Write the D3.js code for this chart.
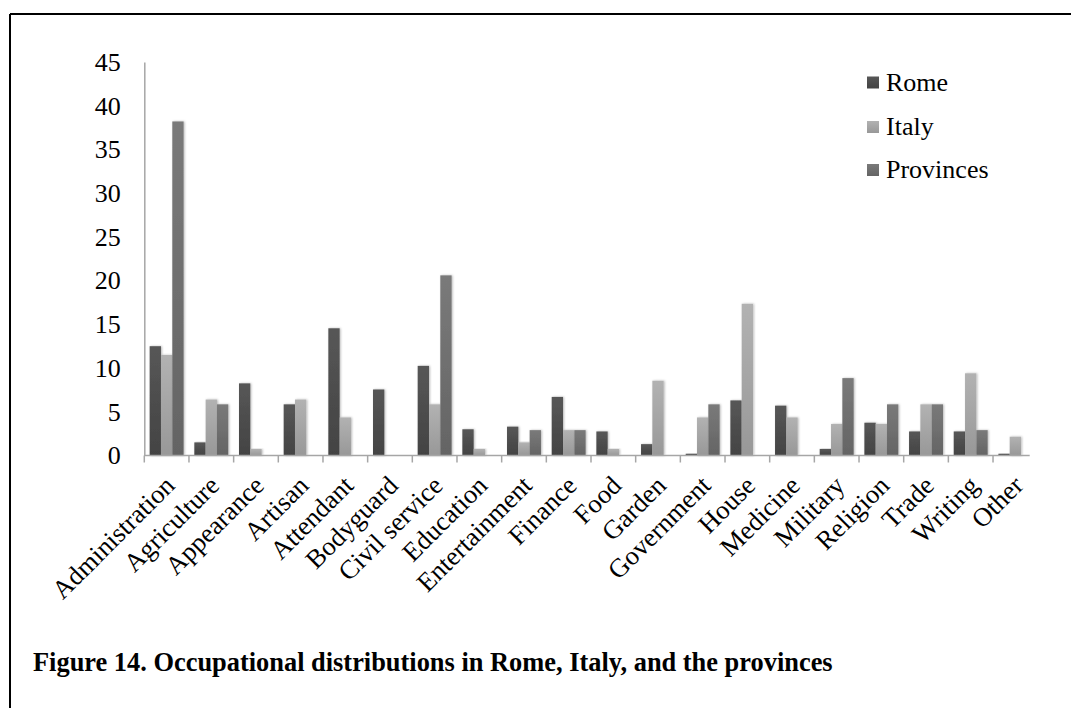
<!DOCTYPE html>
<html>
<head>
<meta charset="utf-8">
<script src="https://cdn.jsdelivr.net/npm/d3@7/dist/d3.min.js"></script>
<style>
  html, body { margin: 0; padding: 0; background: #fff; }
  svg { display: block; }
  text { font-family: "Liberation Serif", "Times New Roman", serif; fill: #000; }
</style>
</head>
<body>
<svg id="chart" width="1071" height="708"></svg>
<script>
const categories = ["Administration","Agriculture","Appearance","Artisan","Attendant","Bodyguard","Civil service","Education","Entertainment","Finance","Food","Garden","Government","House","Medicine","Military","Religion","Trade","Writing","Other"];
const seriesNames = ["Rome","Italy","Provinces"];
const rome      = [12.5, 1.5, 8.25, 5.85, 14.55, 7.55, 10.25, 3.0, 3.3, 6.7, 2.75, 1.3, 0.2, 6.3, 5.7, 0.75, 3.75, 2.75, 2.75, 0.2];
const italy     = [11.5, 6.4, 0.75, 6.4, 4.35, 0, 5.85, 0.75, 1.5, 2.9, 0.75, 8.55, 4.35, 17.35, 4.35, 3.6, 3.6, 5.85, 9.4, 2.15];
const provinces = [38.2, 5.85, 0, 0, 0, 0, 20.6, 0, 2.9, 2.9, 0, 0, 5.85, 0, 0, 8.85, 5.85, 5.85, 2.9, 0];
const yTicks = [0,5,10,15,20,25,30,35,40,45];
const titleText = "Figure 14. Occupational distributions in Rome, Italy, and the provinces";

const seriesValues = [rome, italy, provinces];
const gradStops = [["#575757","#434343"],["#b2b2b2","#989898"],["#7a7a7a","#646464"]];
const FONT = "Liberation Serif, Times New Roman, serif";

const svg = d3.select("#chart");
const defs = svg.append("defs");
gradStops.forEach((g,i)=>{
  const lg = defs.append("linearGradient").attr("id","g"+i).attr("x1",0).attr("y1",0).attr("x2",0).attr("y2",1);
  lg.append("stop").attr("offset","0%").attr("stop-color",g[0]);
  lg.append("stop").attr("offset","100%").attr("stop-color",g[1]);
});
const f = defs.append("filter").attr("id","sh").attr("x","-30%").attr("y","-10%").attr("width","160%").attr("height","120%");
f.append("feDropShadow").attr("dx",1).attr("dy",0).attr("stdDeviation",1.3).attr("flood-color","#000").attr("flood-opacity",0.28);

// frame
svg.append("line").attr("x1",10).attr("y1",14).attr("x2",1071).attr("y2",14).attr("stroke","#000").attr("stroke-width",2);
svg.append("line").attr("x1",10).attr("y1",14).attr("x2",10).attr("y2",708).attr("stroke","#000").attr("stroke-width",2);

const x0 = d3.scaleBand().domain(categories).range([144.3, 1037.7]).paddingInner(0.24).paddingOuter(0.12);
const x1 = d3.scaleBand().domain(seriesNames).range([0, x0.bandwidth()]);
const y = d3.scaleLinear().domain([0,45]).range([455.5, 62]);

// y axis labels
const yAxis = d3.axisLeft(y).tickValues(yTicks).tickSize(0).tickPadding(23.5);
const yg = svg.append("g").attr("transform","translate(144.3,0)").call(yAxis);
yg.select(".domain").attr("stroke","#a6a6a6").attr("stroke-width",1.5);
yg.selectAll("text").style("font-size","26px").style("font-family",FONT).attr("fill","#000");

// bars
const groups = svg.append("g").selectAll("g").data(categories).join("g")
  .attr("transform", d => `translate(${x0(d)},0)`);
groups.selectAll("rect")
  .data((c,ci) => seriesNames.map((s,si) => ({s, si, v: seriesValues[si][ci]})).filter(d=>d.v>0))
  .join("rect")
  .attr("x", d => x1(d.s))
  .attr("width", x1.bandwidth())
  .attr("y", d => y(d.v))
  .attr("height", d => y(0) - y(d.v))
  .attr("fill", d => `url(#g${d.si})`)
  .attr("filter","url(#sh)");

// x axis
const step = x0.step();
const xStart = x0.range()[0];
const xg = svg.append("g");
xg.append("line").attr("x1", xStart).attr("x2", x0.range()[1]-8).attr("y1", y(0)).attr("y2", y(0))
  .attr("stroke","#a6a6a6").attr("stroke-width",1.5);
xg.selectAll("line.tk").data(d3.range(categories.length)).join("line").attr("class","tk")
  .attr("x1", k => xStart + k*step).attr("x2", k => xStart + k*step)
  .attr("y1", y(0)).attr("y2", y(0)+7).attr("stroke","#a6a6a6").attr("stroke-width",1.5);

xg.selectAll("text.cat").data(categories).join("text").attr("class","cat")
  .attr("transform", d => `translate(${x0(d)+x0.bandwidth()/2+3},${y(0)+25}) rotate(-45)`)
  .attr("text-anchor","end").attr("dy","0.35em")
  .style("font-size","26.5px")
  .text(d => d);

// legend
const lg = svg.append("g").attr("transform","translate(867,0)");
const legY = [82.5, 127, 170];
seriesNames.forEach((s,i)=>{
  lg.append("rect").attr("x",0).attr("y",legY[i]-6).attr("width",12).attr("height",12).attr("fill",`url(#g${i})`);
  lg.append("text").attr("x",19).attr("y",legY[i]+8).style("font-size","26px").text(s);
});

// title
svg.append("text").attr("x",33).attr("y",671).style("font-size","26.4px").style("font-weight","bold").text(titleText);
</script>
</body>
</html>
